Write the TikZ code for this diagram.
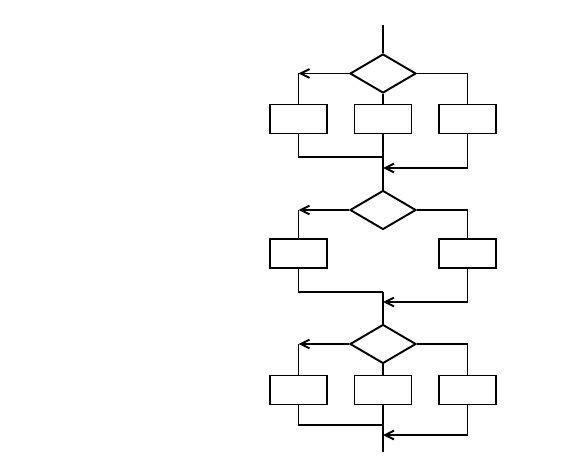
\documentclass[tikz,border=0pt]{standalone}
\usepackage{tikz}
\usetikzlibrary{arrows.meta,shapes.geometric}
\tikzset{
    block/.style={rectangle,draw,minimum width=1.14cm,minimum height=0.58cm,inner sep=0pt},
    decision/.style={diamond,draw,minimum width=1.32cm,minimum height=0.78cm,inner sep=0pt},
    edge/.style={->,> = {Straight Barb[length=5pt,width=5pt]}}
}
\newcommand{\cx}{383}

\begin{document}
\begin{tikzpicture} [x=0.02cm,y=0.02cm,line width=1.1pt]
\useasboundingbox (0,0) rectangle (561,467);
\coordinate (0) at (\cx,442);
\node[decision] (1) at (\cx,393.5) {};
\node[block] (2) at (298.5,348) {};
\node[block] (3) at (\cx,348) {};
\node[block] (4) at (467.5,348) {};
\coordinate (5) at (\cx,310);
\coordinate (6) at (\cx,299);
\node[decision] (7) at (\cx,257) {};
\node[block] (8) at (298.5,213.5) {};
\node[block] (9) at (467.5,213.5) {};
\coordinate (10) at (\cx,175);
\coordinate (11) at (\cx,165);
\node[decision] (12) at (\cx,123) {};
\node[block] (13) at (298.5,77) {};
\node[block] (14) at (\cx,77) {};
\node[block] (15) at (467.5,77) {};
\coordinate (16) at (\cx,42);
\coordinate (17) at (\cx,32);
\coordinate (18) at (\cx,15);



\draw (0) -- (1);
\draw[edge] (1) -- (2 |- 1);
\draw (2 |- 1) -- (2);
\draw (1) -- (3);
\draw (1) -- (4 |- 1) -- (4);
\draw (2) |- (5);
\draw[edge] (4) |- (6);
\draw (3) -- (7);

\draw[edge] (7) -- (8 |- 7);
\draw (8 |- 7) -- (8);
\draw (7) -- (9 |- 7) -- (9);
\draw (8) |- (10);
\draw[edge] (9) |- (11);
\draw (10) -- (12);

\draw[edge] (12) -- (13 |- 12);
\draw (13 |- 12) -- (13);
\draw (12) -- (14);
\draw (12) -- (15 |- 12) -- (15);
\draw (13) |- (16);
\draw[edge] (15) |- (17);
\draw (14) -- (18);


\end{tikzpicture}
\end{document}
